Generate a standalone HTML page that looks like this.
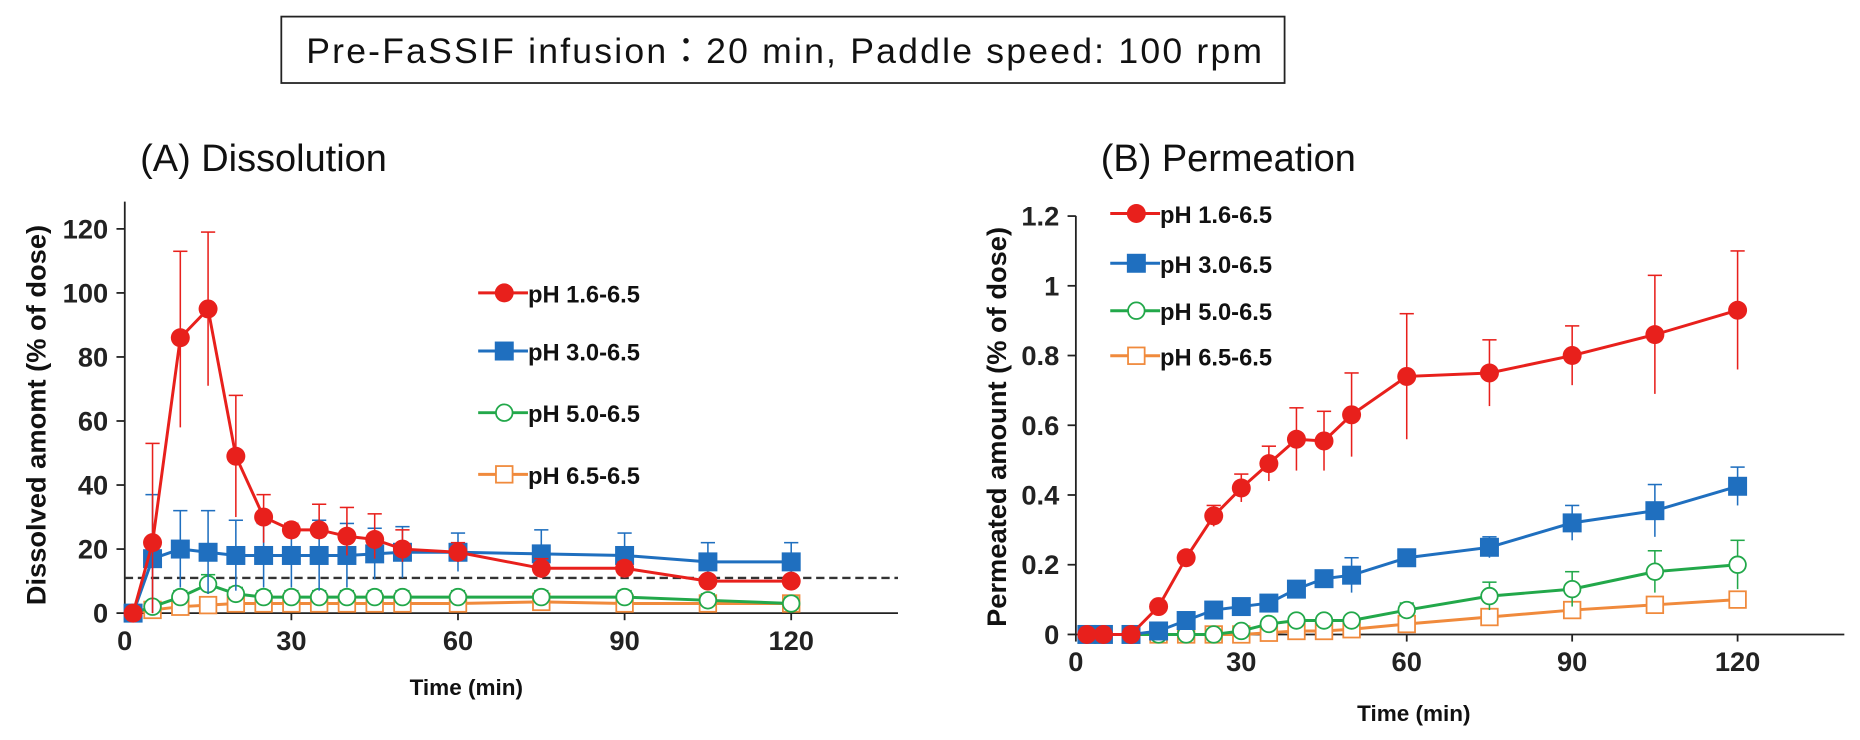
<!DOCTYPE html>
<html><head><meta charset="utf-8"><style>
body{margin:0;background:#fff;}
svg{display:block;font-family:"Liberation Sans",Arial,sans-serif;}
.tk{font-size:23px;font-weight:bold;fill:#222;}
.lg{font-size:20px;font-weight:bold;fill:#111;}
</style></head><body>
<svg id="s" width="1860" height="740" viewBox="0 0 1568 624" xmlns="http://www.w3.org/2000/svg">
<rect x="237" y="14" width="846" height="56" fill="#fff" stroke="#222" stroke-width="1.5"/>
<text x="258" y="53" textLength="806" lengthAdjust="spacing" font-size="30" fill="#111" font-family="Liberation Sans, Noto Sans CJK JP, sans-serif">Pre-FaSSIF infusion：20 min,  Paddle speed: 100 rpm</text>
<text x="118" y="144" font-size="32" fill="#111">(A) Dissolution</text>
<text x="928" y="144" font-size="32" fill="#111">(B) Permeation</text>
<text transform="translate(38,350) rotate(-90)" text-anchor="middle" font-size="23" font-weight="bold" fill="#111">Dissolved amomt (% of dose)</text>
<text transform="translate(848,360) rotate(-90)" text-anchor="middle" font-size="23" font-weight="bold" fill="#111">Permeated amount (% of dose)</text>
<text x="393" y="586" text-anchor="middle" font-size="19" font-weight="bold" fill="#111">Time (min)</text>
<text x="1192" y="608" text-anchor="middle" font-size="19" font-weight="bold" fill="#111">Time (min)</text>
<g id="g"></g>
</svg>
<script>
const g=document.getElementById('g');const NS='http://www.w3.org/2000/svg';
function el(t,a){const e=document.createElementNS(NS,t);for(const k in a)e.setAttribute(k,a[k]);g.appendChild(e);return e;}
function txt(x,y,s,cls,anc){const e=el('text',{x:x,y:y,class:cls,'text-anchor':anc||'end'});e.textContent=s;}
const C={r:'#e8201c',b:'#1f6fbf',g:'#22a84a',o:'#f08a3c'};
function marker(t,x,y,c){
 if(t=='r')el('circle',{cx:x,cy:y,r:8,fill:c});
 else if(t=='b')el('rect',{x:x-8,y:y-8,width:16,height:16,fill:c});
 else if(t=='g')el('circle',{cx:x,cy:y,r:7,fill:'#fff',stroke:c,'stroke-width':1.5});
 else el('rect',{x:x-7,y:y-7,width:14,height:14,fill:'#fff',stroke:c,'stroke-width':1.5});
}
function panel(P){
 const X=t=>P.x0+t*P.sx, Y=v=>P.y0-v*P.sy;
 el('line',{x1:P.x0,y1:P.yt,x2:P.x0,y2:P.y0,stroke:'#222','stroke-width':1.5});
 el('line',{x1:P.x0,y1:P.y0,x2:P.xe,y2:P.y0,stroke:'#222','stroke-width':1.5});
 P.yticks.forEach(v=>{el('line',{x1:P.x0-7,y1:Y(v[0]),x2:P.x0,y2:Y(v[0]),stroke:'#222','stroke-width':1.5});txt(P.x0-14,Y(v[0])+8,v[1],'tk');});
 [0,30,60,90,120].forEach(t=>{el('line',{x1:X(t),y1:P.y0,x2:X(t),y2:P.y0+6,stroke:'#222','stroke-width':1.5});txt(X(t),P.y0+31,String(t),'tk','middle');});
 if(P.dash)el('line',{x1:P.x0,y1:Y(P.dash),x2:P.xe,y2:Y(P.dash),stroke:'#333','stroke-width':2,'stroke-dasharray':'7,4'});
 ['o','g','b','r'].forEach(k=>{
  const d=P.d[k],c=C[k];
  d.forEach(p=>{if(p[2]!=null){const e=p[2];el('line',{x1:X(p[0]),y1:Y(p[1]+e),x2:X(p[0]),y2:Y(Math.max(0,p[1]-(p[3]!=null?p[3]:e))),stroke:c,'stroke-width':1.3});
   el('line',{x1:X(p[0])-6,y1:Y(p[1]+e),x2:X(p[0])+6,y2:Y(p[1]+e),stroke:c,'stroke-width':1.3});}});
  el('polyline',{points:d.map(p=>X(p[0])+','+Y(p[1])).join(' '),fill:'none',stroke:c,'stroke-width':2.5});
  d.forEach(p=>marker(k,X(p[0]),Y(p[1]),c));
 });
 ['r','b','g','o'].forEach((k,i)=>{const y=P.ly[i];el('line',{x1:P.lx-22,y1:y,x2:P.lx+20,y2:y,stroke:C[k],'stroke-width':2.5});marker(k,P.lx,y,C[k]);
  txt(P.lx+20,y+8,['pH 1.6-6.5','pH 3.0-6.5','pH 5.0-6.5','pH 6.5-6.5'][i],'lg','start');});
}
const T=[5,10,15,20,25,30,35,40,45,50,60,75,90,105,120];
function mk(vals,errs,lo){const r=[[1.5,0]];T.forEach((t,i)=>r.push([t,vals[i],errs?errs[i]:null,lo?lo[i]:null]));return r;}
panel({x0:105,y0:517,sx:4.683,sy:2.7,yt:170,xe:757,dash:11,
 yticks:[[0,'0'],[20,'20'],[40,'40'],[60,'60'],[80,'80'],[100,'100'],[120,'120']],
 lx:425,ly:[247,296,348,400],
 d:{r:mk([22,86,95,49,30,26,26,24,23,20,19,14,14,10,10],[31,27,24,19,7,2,8,9,8,6,3,3,2,1,1],[22,28,24,19,8,3,3,6,6,4,3,3,2,1,1]),
 b:mk([17,20,19,18,18,18,18,18,18.5,19,19,18.5,18,16,16],[20,12,13,11,10,10,11,10,8,8,6,7.5,7,6,6]),
 g:mk([2,5,9,6,5,5,5,5,5,5,5,5,5,4,3],[1,2,3,2,2,2,2,2,2,2,2,2,2,2,2]),
 o:mk([1,2,2.5,3,3,3,3,3,3,3,3,3.5,3,3,3])}});
const TB=[0,5,10,15,20,25,30,35,40,45,50,60,75,90,105,120];
function mb(vals,errs){return TB.map((t,i)=>[t===0?2:t,vals[i],errs?errs[i]:null]);}
panel({x0:907,y0:535,sx:4.65,sy:294,yt:182,xe:1555,
 yticks:[[0,'0'],[0.2,'0.2'],[0.4,'0.4'],[0.6,'0.6'],[0.8,'0.8'],[1,'1'],[1.2,'1.2']],
 lx:958,ly:[180,222,262,300],
 d:{r:mb([0,0,0,0.08,0.22,0.34,0.42,0.49,0.56,0.555,0.63,0.74,0.75,0.80,0.86,0.93],[null,null,null,0.01,0.01,0.03,0.04,0.05,0.09,0.085,0.12,0.18,0.095,0.085,0.17,0.17]),
 b:mb([0,0,0,0.01,0.04,0.07,0.08,0.09,0.13,0.16,0.17,0.22,0.25,0.32,0.355,0.425],[null,null,null,null,null,null,null,null,null,null,0.05,null,0.03,0.05,0.075,0.055]),
 g:mb([0,0,0,0,0,0,0.01,0.03,0.04,0.04,0.04,0.07,0.11,0.13,0.18,0.20],[null,null,null,null,null,null,null,null,null,null,null,0.02,0.04,0.05,0.06,0.07]),
 o:mb([0,0,0,0,0,0,0,0.005,0.01,0.01,0.015,0.03,0.05,0.07,0.085,0.10])}});
</script>
</body></html>
